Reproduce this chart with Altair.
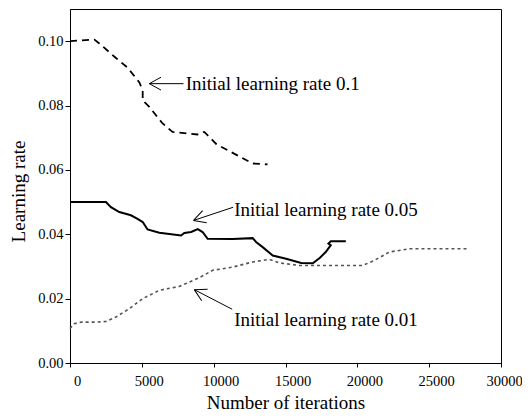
import math
import altair as alt
import pandas as pd

# ---- data ----
lr01_iter = [0, 1700, 2040, 3220, 4000, 4830, 5060, 5060, 5520, 6430, 7130, 8870, 9350, 10190, 11320, 12700, 13750]
lr01_rate = [0.100, 0.1005, 0.0993, 0.0947, 0.0918, 0.0872, 0.0847, 0.0816, 0.0796, 0.0745, 0.0718, 0.0710, 0.0718, 0.0680, 0.0653, 0.0620, 0.0617]

lr005_iter = [0, 1500, 2500, 2850, 3430, 4240, 4700, 5060, 5400, 6220, 7730, 7960, 8430, 8890, 9230, 9580,
              11320, 12720, 12950, 13410, 14110, 15040, 16090, 16900, 17400, 17800, 18150, 17990, 18150, 19200]
lr005_rate = [0.0500, 0.0500, 0.0500, 0.0484, 0.0469, 0.0459, 0.0448, 0.0438, 0.0415, 0.0405, 0.0396, 0.0404, 0.0407, 0.0416, 0.0407, 0.0386,
              0.0385, 0.0388, 0.0376, 0.0360, 0.0334, 0.0324, 0.0311, 0.0310, 0.0327, 0.0345, 0.0366, 0.0371, 0.0378, 0.0378]

lr001_iter = [0, 300, 770, 1810, 2510, 3200, 4130, 5060, 6220, 7610, 9000, 9930, 11320, 12720, 13880, 14580, 15970,
              20380, 21190, 22240, 23630, 27690]
lr001_rate = [0.0107, 0.0122, 0.0127, 0.0127, 0.0129, 0.0143, 0.0169, 0.0200, 0.0226, 0.0238, 0.0265, 0.0288, 0.0298,
              0.0314, 0.0322, 0.0311, 0.0303, 0.0303, 0.0319, 0.0345, 0.0355, 0.0355]

ann_text = ["Initial learning rate 0.1", "Initial learning rate 0.05", "Initial learning rate 0.01"]
ann_text_iter = [8050, 11430, 11430]
ann_text_rate = [0.0868, 0.0474, 0.0135]
arrow_tail_iter = [7900, 11360, 11290]
arrow_tail_rate = [0.0868, 0.0484, 0.0167]
arrow_tip_iter = [5520, 8600, 8650]
arrow_tip_rate = [0.0868, 0.0443, 0.0228]

x_ticks = list(range(0, 30001, 2500))
y_ticks = [round(i * 0.01, 2) for i in range(11)]

X_MAX = 30000
Y_MAX = 0.11
W = 431
H = 354
FONT = "Liberation Serif"

# ---- tables ----
d01 = pd.DataFrame({"it": lr01_iter, "lr": lr01_rate, "o": range(len(lr01_iter))})
d005 = pd.DataFrame({"it": lr005_iter, "lr": lr005_rate, "o": range(len(lr005_iter))})
d001 = pd.DataFrame({"it": lr001_iter, "lr": lr001_rate, "o": range(len(lr001_iter))})

angles = []
for tx, ty, hx, hy in zip(arrow_tail_iter, arrow_tail_rate, arrow_tip_iter, arrow_tip_rate):
    dx = (tx - hx) * W / X_MAX
    dy = -(ty - hy) * H / Y_MAX
    angles.append(math.degrees(math.atan2(dy, dx)) % 360)

ann = pd.DataFrame({
    "text": ann_text, "tx": ann_text_iter, "ty": ann_text_rate,
    "ax": arrow_tail_iter, "ay": arrow_tail_rate,
    "hx": arrow_tip_iter, "hy": arrow_tip_rate, "ang": angles,
})

xscale = alt.Scale(domain=[0, X_MAX], nice=False, zero=False)
yscale = alt.Scale(domain=[0, Y_MAX], nice=False, zero=False)

xaxis = alt.Axis(
    values=x_ticks, title="Number of iterations",
    labelExpr="datum.value % 5000 === 0 ? format(datum.value, 'd') : ''",
    tickSize={"condition": {"test": "datum.value % 5000 === 0", "value": 4}, "value": 3},
    labelOffset={"condition": {"test": "datum.value === 30000", "value": 3}, "value": 7},
    labelPadding=7, labelFlush=False, labelOverlap=False,
    labelFont=FONT, labelFontSize=14.5, titleFont=FONT, titleFontSize=19,
    titleY=45, titleBaseline="alphabetic", grid=False,
)
yaxis = alt.Axis(
    values=y_ticks, title="Learning rate",
    labelExpr="round(datum.value * 100) % 2 === 0 ? format(datum.value, '.2f') : ''",
    tickSize={"condition": {"test": "round(datum.value * 100) % 2 === 0", "value": 5}, "value": 3},
    labelPadding=2, labelFlush=False, labelOverlap=False,
    labelFont=FONT, labelFontSize=14.5, titleFont=FONT, titleFontSize=19,
    titleX=-46, titleY=182, titleAngle=-90, titleAlign="center", titleBaseline="alphabetic", grid=False,
)

X = alt.X("it:Q", scale=xscale, axis=xaxis)
Y = alt.Y("lr:Q", scale=yscale, axis=yaxis)

line01 = alt.Chart(d01).mark_line(color="black", strokeWidth=1.8, strokeDash=[7, 5]).encode(
    x=X, y=Y, order="o:Q")
line005 = alt.Chart(d005).mark_line(color="black", strokeWidth=2).encode(
    x=alt.X("it:Q", scale=xscale), y=alt.Y("lr:Q", scale=yscale), order="o:Q")
line001 = alt.Chart(d001).mark_line(color="#555555", strokeWidth=1.6, strokeDash=[3, 3]).encode(
    x=alt.X("it:Q", scale=xscale), y=alt.Y("lr:Q", scale=yscale), order="o:Q")

base = alt.Chart(ann)
shafts = base.mark_rule(color="black", strokeWidth=1).encode(
    x=alt.X("ax:Q", scale=xscale), y=alt.Y("ay:Q", scale=yscale),
    x2="hx:Q", y2="hy:Q")
heads = base.mark_point(
    shape="M0,0 L2,-1.1 M0,0 L2,1.1", filled=False, color="black", strokeWidth=1, size=137, opacity=1
).encode(
    x=alt.X("hx:Q", scale=xscale), y=alt.Y("hy:Q", scale=yscale), angle=alt.Angle("ang:Q", scale=None))
texts = base.mark_text(align="left", baseline="middle", font=FONT, fontSize=19, color="black").encode(
    x=alt.X("tx:Q", scale=xscale), y=alt.Y("ty:Q", scale=yscale), text="text:N")

chart = alt.layer(line01, line005, line001, shafts, heads, texts).properties(
    width=W, height=H,
    autosize=alt.AutoSizeParams(type="none"),
    padding={"left": 62, "top": 1, "right": 21, "bottom": 48},
).configure(
    font=FONT,
).configure_view(
    stroke="black", strokeWidth=1
).configure_axis(
    domainColor="black", tickColor="black", labelColor="black", titleColor="black",
    labelFont=FONT, labelFontSize=14.5, titleFont=FONT, titleFontSize=19,
    titleFontWeight="normal", domainWidth=1, tickWidth=1,
)

chart.save("out.html", embed_options={"renderer": "svg", "actions": False})
